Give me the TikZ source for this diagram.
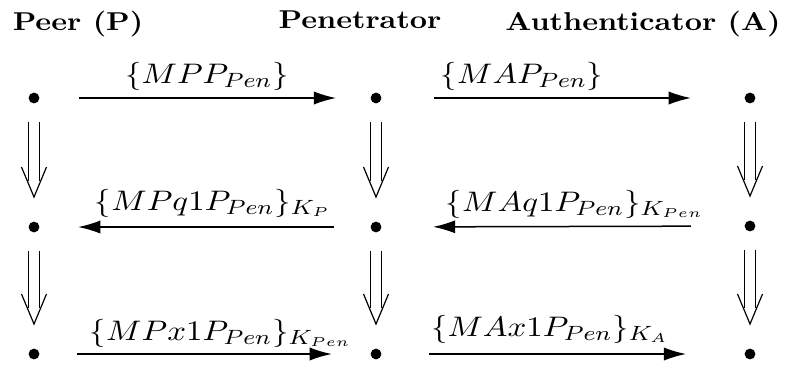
\documentclass[tikz,border=0pt]{standalone}
\usepackage{graphicx}
\usetikzlibrary{arrows.meta,calc}
\newcommand\squat[1]{\scalebox{1}[0.86]{#1}}
\tikzset{
  dot/.style={circle,fill=black,inner sep=0pt,minimum size=3.6pt},
  head/.style={font=\fontsize{10}{12}\selectfont\bfseries,inner sep=0pt,anchor=base},
  lbl/.style={font=\fontsize{11}{13}\selectfont,inner sep=0pt,anchor=base},
  msg/.style={line width=0.5pt,-{Latex[length=7.4pt,width=4.4pt]}},
  dblline/.style={line width=0.4pt}
}
\newcommand\dblarr[2]{%
  \draw[dblline] ($(#1)+(-5.3,24)$) -- ($(#2)+(-5.3,-46)$);
  \draw[dblline] ($(#1)+(5.3,24)$) -- ($(#2)+(5.3,-46)$);
  \draw[dblline] ($(#2)+(-12.5,-60)$) -- ($(#2)+(0,-30)$) -- ($(#2)+(12.5,-60)$);}
\begin{document}
\begin{tikzpicture}[x=0.3333pt,y=-0.3333pt]
\useasboundingbox (0,0) rectangle (791,369);
% headings
\node[head] (hp) at (78,30) {\squat{Peer (P)}};
\node[head] (hn) at (360,28) {\squat{Penetrator}};
\node[head] (ha) at (643,30) {\squat{Authenticator (A)}};
% dots
\node[dot] (p1) at (34,98) {};
\node[dot] (p2) at (34,227) {};
\node[dot] (p3) at (34,354) {};
\node[dot] (n1) at (376,98) {};
\node[dot] (n2) at (376,227) {};
\node[dot] (n3) at (376,354) {};
\node[dot] (a1) at (750,98) {};
\node[dot] (a2) at (750,226) {};
\node[dot] (a3) at (750,354) {};
% messages
\draw[msg,shorten <=13pt,shorten >=11.3pt] (p1) -- (n1);
\draw[msg,shorten <=17.3pt,shorten >=17.7pt] (n1) -- (a1);
\draw[msg,shorten <=12pt,shorten >=12.7pt] (n2) -- (p2);
\draw[msg,shorten <=17.7pt,shorten >=17pt] (a2) -- (n2);
\draw[msg,shorten <=12.3pt,shorten >=12.7pt] (p3) -- (n3);
\draw[msg,shorten <=15.7pt,shorten >=19.3pt] (n3) -- (a3);
% labels
\node[lbl] (l1) at (207,83) {\squat{$\{MPP_{Pen}\}$}};
\node[lbl] (l2) at (522,83) {\squat{$\{MAP_{Pen}\}$}};
\node[lbl] (l3) at (213,210) {\squat{$\{MPq1P_{Pen}\}_{K_P}$}};
\node[lbl] (l4) at (575,211) {\squat{$\{MAq1P_{Pen}\}_{K_{Pen}}$}};
\node[lbl] (l5) at (221,340) {\squat{$\{MPx1P_{Pen}\}_{K_{Pen}}$}};
\node[lbl] (l6) at (550,336) {\squat{$\{MAx1P_{Pen}\}_{K_A}$}};
% state transitions
\dblarr{p1}{p2}
\dblarr{p2}{p3}
\dblarr{n1}{n2}
\dblarr{n2}{n3}
\dblarr{a1}{a2}
\dblarr{a2}{a3}
\end{tikzpicture}
\end{document}
